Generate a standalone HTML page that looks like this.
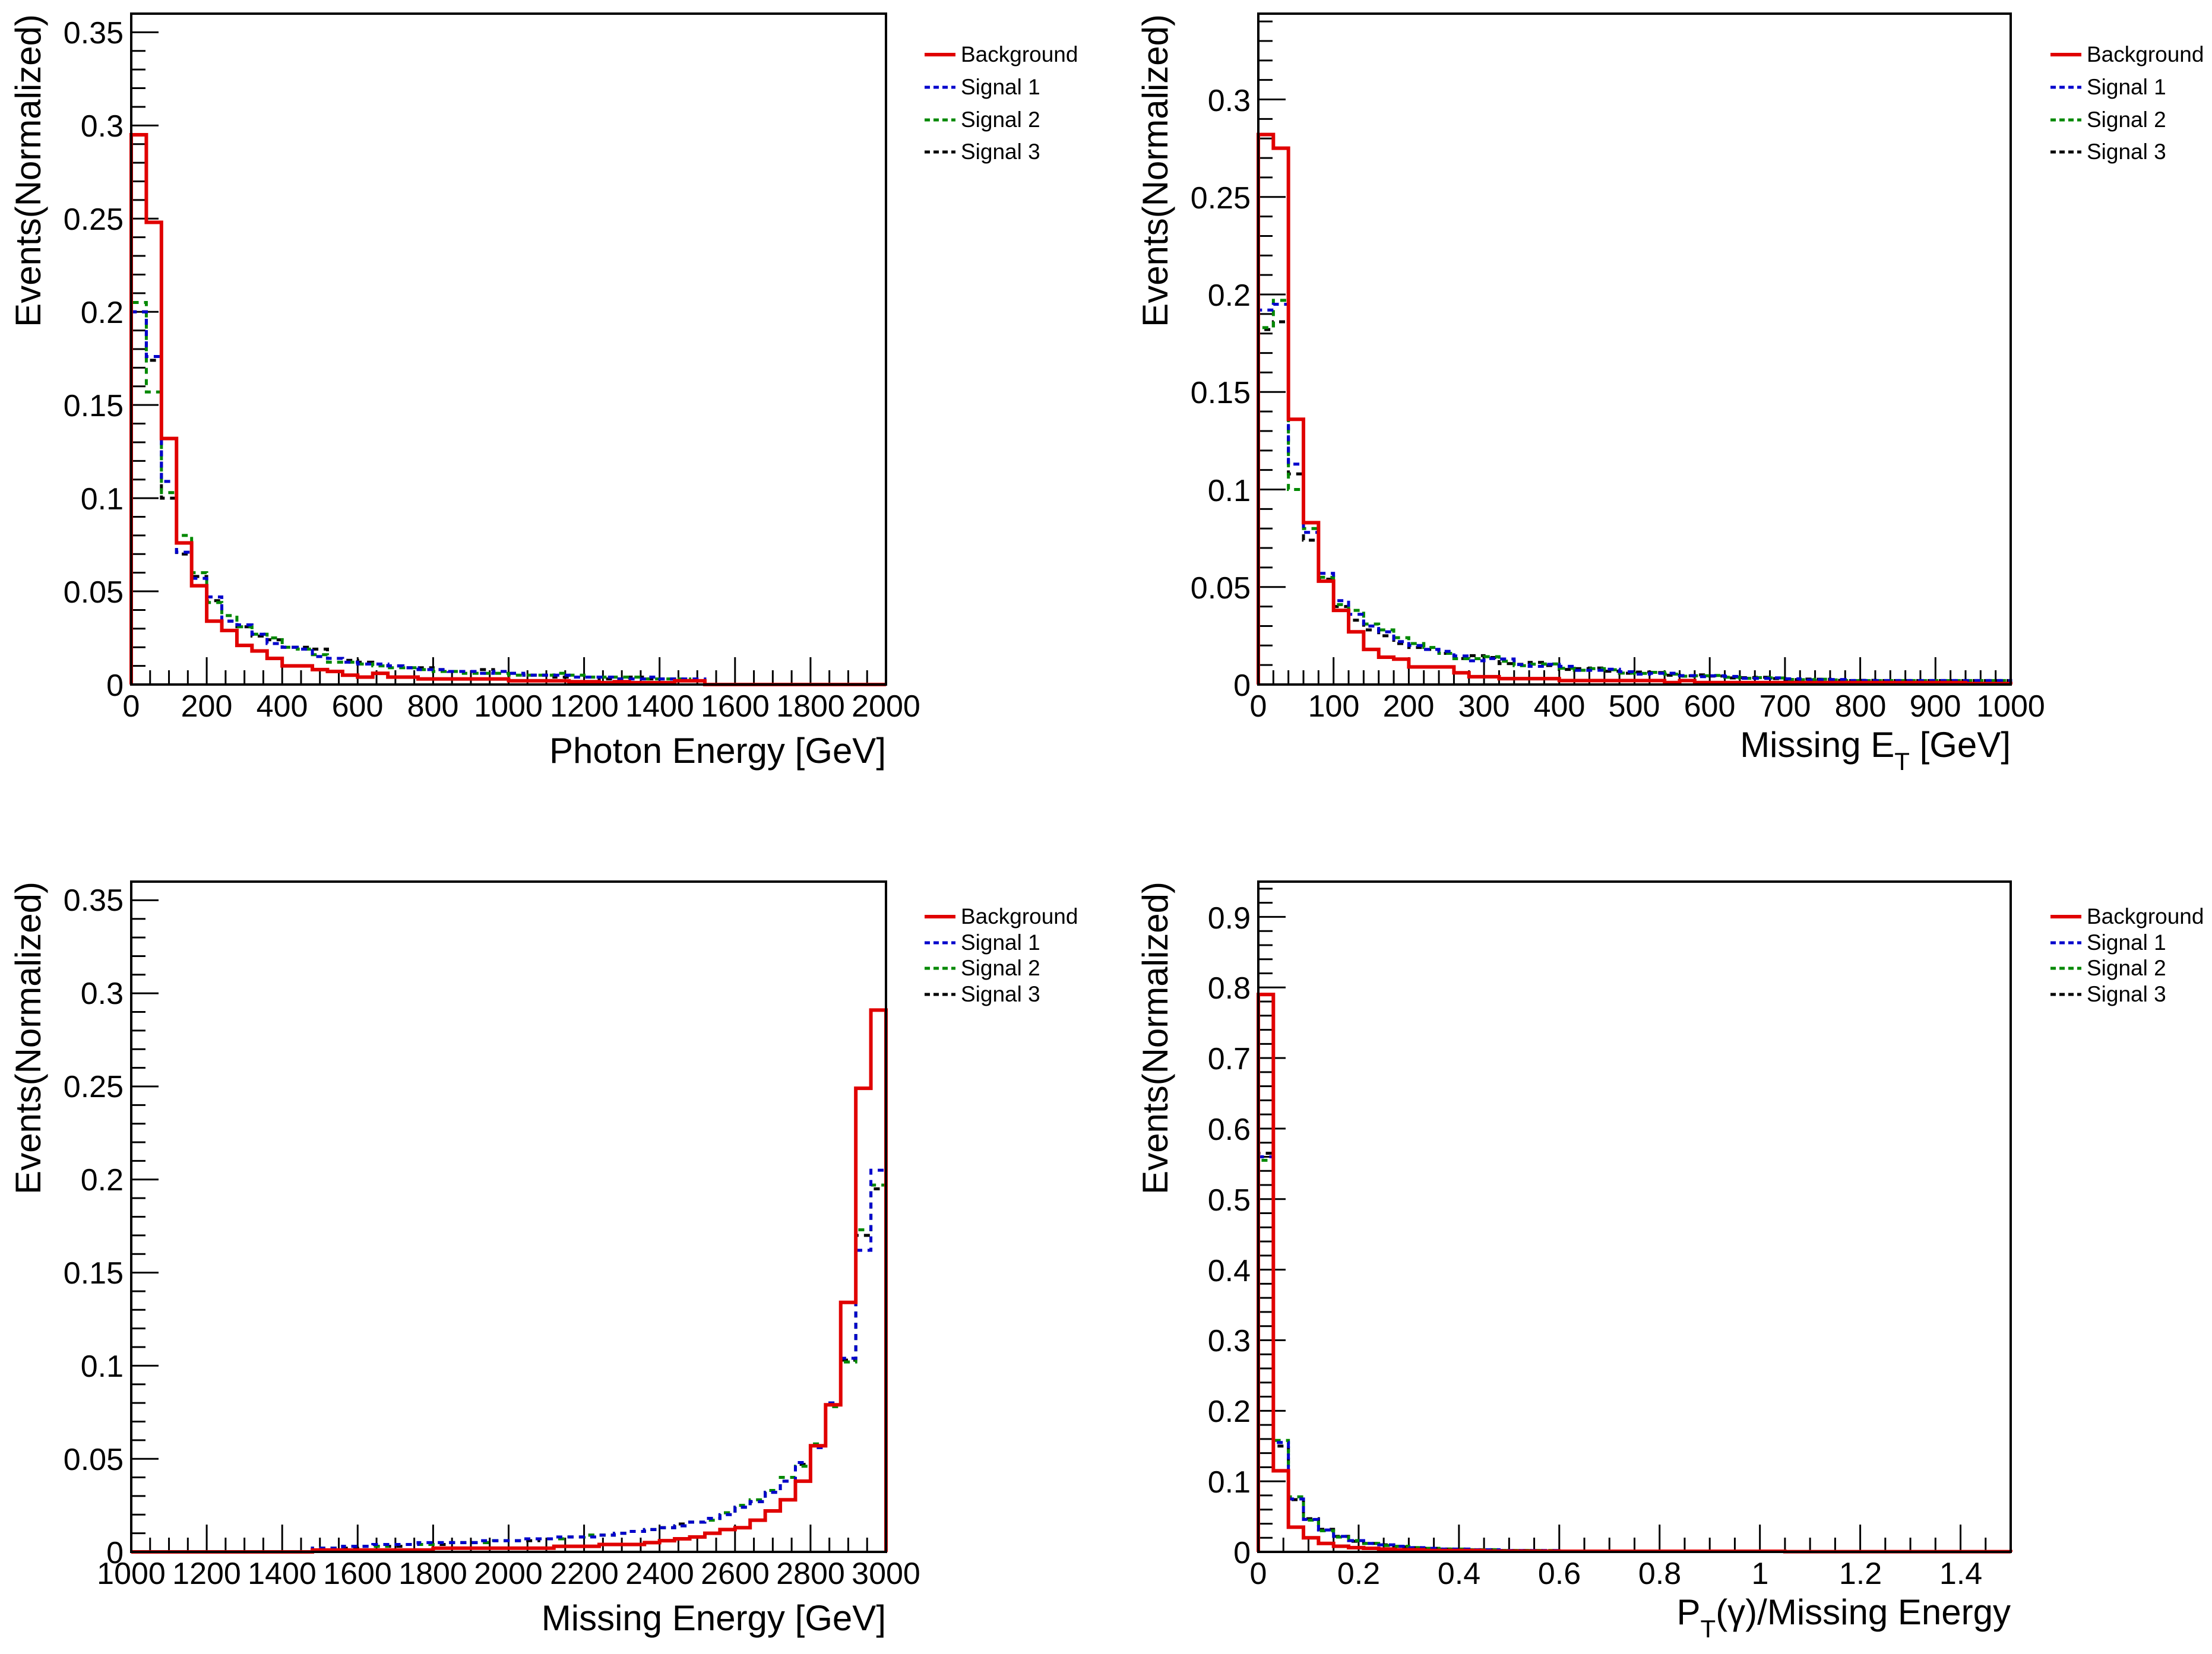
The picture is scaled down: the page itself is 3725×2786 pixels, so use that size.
<!DOCTYPE html>
<html><head><meta charset="utf-8"><style>
html,body{margin:0;padding:0;background:#fff}
svg{display:block}
text{font-family:"Liberation Sans",sans-serif;fill:#000}
.t{font-size:52px}
.ax{font-size:60px}
.lg{font-size:37px}
</style></head><body>
<svg id="s" width="3725" height="2786" viewBox="0 0 3725 2786" xmlns="http://www.w3.org/2000/svg">
<rect width="3725" height="2786" fill="#fff"/>
<g id="plots"></g>

<g class="t" text-anchor="middle">
<text x="221" y="1207">0</text><text x="348" y="1207">200</text><text x="475" y="1207">400</text><text x="602" y="1207">600</text><text x="729" y="1207">800</text><text x="856" y="1207">1000</text><text x="984" y="1207">1200</text><text x="1111" y="1207">1400</text><text x="1238" y="1207">1600</text><text x="1365" y="1207">1800</text><text x="1492" y="1207">2000</text>
</g>
<g class="t" text-anchor="end">
<text x="208" y="1172">0</text><text x="208" y="1015">0.05</text><text x="208" y="858">0.1</text><text x="208" y="701">0.15</text><text x="208" y="544">0.2</text><text x="208" y="387">0.25</text><text x="208" y="230">0.3</text><text x="208" y="73">0.35</text>
</g>
<text class="ax" x="1492" y="1285" text-anchor="end">Photon Energy [GeV]</text>
<text class="ax" transform="translate(68,24) rotate(-90)" text-anchor="end">Events(Normalized)</text>

<g class="t" text-anchor="middle">
<text x="2119" y="1207">0</text><text x="2246" y="1207">100</text><text x="2372" y="1207">200</text><text x="2499" y="1207">300</text><text x="2626" y="1207">400</text><text x="2752" y="1207">500</text><text x="2879" y="1207">600</text><text x="3006" y="1207">700</text><text x="3133" y="1207">800</text><text x="3259" y="1207">900</text><text x="3386" y="1207">1000</text>
</g>
<g class="t" text-anchor="end">
<text x="2106" y="1172">0</text><text x="2106" y="1008">0.05</text><text x="2106" y="844">0.1</text><text x="2106" y="679">0.15</text><text x="2106" y="515">0.2</text><text x="2106" y="351">0.25</text><text x="2106" y="187">0.3</text>
</g>
<text class="ax" x="3386" y="1275" text-anchor="end">Missing E<tspan dy="22" font-size="42">T</tspan><tspan dy="-22"> [GeV]</tspan></text>
<text class="ax" transform="translate(1966,24) rotate(-90)" text-anchor="end">Events(Normalized)</text>

<g class="t" text-anchor="middle">
<text x="221" y="2668">1000</text><text x="348" y="2668">1200</text><text x="475" y="2668">1400</text><text x="602" y="2668">1600</text><text x="729" y="2668">1800</text><text x="856" y="2668">2000</text><text x="984" y="2668">2200</text><text x="1111" y="2668">2400</text><text x="1238" y="2668">2600</text><text x="1365" y="2668">2800</text><text x="1492" y="2668">3000</text>
</g>
<g class="t" text-anchor="end">
<text x="208" y="2633">0</text><text x="208" y="2476">0.05</text><text x="208" y="2319">0.1</text><text x="208" y="2162">0.15</text><text x="208" y="2005">0.2</text><text x="208" y="1848">0.25</text><text x="208" y="1691">0.3</text><text x="208" y="1534">0.35</text>
</g>
<text class="ax" x="1492" y="2746" text-anchor="end">Missing Energy [GeV]</text>
<text class="ax" transform="translate(68,1485) rotate(-90)" text-anchor="end">Events(Normalized)</text>

<g class="t" text-anchor="middle">
<text x="2119" y="2668">0</text><text x="2288" y="2668">0.2</text><text x="2457" y="2668">0.4</text><text x="2626" y="2668">0.6</text><text x="2795" y="2668">0.8</text><text x="2964" y="2668">1</text><text x="3133" y="2668">1.2</text><text x="3302" y="2668">1.4</text>
</g>
<g class="t" text-anchor="end">
<text x="2106" y="2633">0</text><text x="2106" y="2514">0.1</text><text x="2106" y="2395">0.2</text><text x="2106" y="2276">0.3</text><text x="2106" y="2158">0.4</text><text x="2106" y="2039">0.5</text><text x="2106" y="1920">0.6</text><text x="2106" y="1801">0.7</text><text x="2106" y="1682">0.8</text><text x="2106" y="1564">0.9</text>
</g>
<text class="ax" x="3386" y="2736" text-anchor="end">P<tspan dy="22" font-size="42">T</tspan><tspan dy="-22">(γ)/Missing Energy</tspan></text>
<text class="ax" transform="translate(1966,1485) rotate(-90)" text-anchor="end">Events(Normalized)</text>

<g class="lg">
<text x="1618" y="104">Background</text><text x="1618" y="159">Signal 1</text><text x="1618" y="214">Signal 2</text><text x="1618" y="268">Signal 3</text>
<text x="3514" y="104">Background</text><text x="3514" y="159">Signal 1</text><text x="3514" y="214">Signal 2</text><text x="3514" y="268">Signal 3</text>
<text x="1618" y="1556">Background</text><text x="1618" y="1600">Signal 1</text><text x="1618" y="1643">Signal 2</text><text x="1618" y="1687">Signal 3</text>
<text x="3514" y="1556">Background</text><text x="3514" y="1600">Signal 1</text><text x="3514" y="1643">Signal 2</text><text x="3514" y="1687">Signal 3</text>
</g>
</svg>
<script>
(function(){
var NS="http://www.w3.org/2000/svg",G=document.getElementById("plots");
function el(n,a){var e=document.createElementNS(NS,n);for(var k in a)e.setAttribute(k,a[k]);G.appendChild(e);return e;}
function line(x1,y1,x2,y2,w,c){el("line",{x1:x1,y1:y1,x2:x2,y2:y2,stroke:c||"#000","stroke-width":w||3});}
function plot(p){
 var L=p.L,R=p.R,T=p.T,B=p.B,W=R-L,H=B-T;
 function X(v){return L+(v-p.x0)/(p.x1-p.x0)*W;}
 function Y(v){return B-v/p.ymax*H;}
 for(var v=p.x0;v<=p.x1+1e-9;v+=p.xmin){var maj=Math.abs((v-p.x0)/p.xmaj-Math.round((v-p.x0)/p.xmaj))<1e-6;line(X(v),B,X(v),B-(maj?46:24),3);}
 for(var v=0;v<=p.ymax+1e-9;v+=p.ymin){var maj=Math.abs(v/p.ymaj-Math.round(v/p.ymaj))<1e-6;line(L,Y(v),L+(maj?46:24),Y(v),3);}
 var n=p.series[0].d.length,bw=(p.x1-p.x0)/n;
 var styles=[{c:"#e00000",w:6,da:null},{c:"#0000cc",w:5,da:"10,9"},{c:"#008800",w:5,da:"10,9"},{c:"#000",w:5,da:"10,9"}];
 for(var s=p.series.length-1;s>=0;s--){
   var d=p.series[s].d,st=styles[s],pts=[];
   pts.push(X(p.x0)+","+Y(0));
   for(var i=0;i<n;i++){pts.push(X(p.x0+i*bw)+","+Y(d[i]));pts.push(X(p.x0+(i+1)*bw)+","+Y(d[i]));}
   pts.push(X(p.x1)+","+Y(0));
   var a={points:pts.join(" "),fill:"none",stroke:st.c,"stroke-width":st.w};
   if(st.da)a["stroke-dasharray"]=st.da;
   el("polyline",a);
 }
 el("rect",{x:L,y:T,width:W,height:H,fill:"none",stroke:"#000","stroke-width":4});
 var ly=p.leg;
 for(var s=0;s<4;s++){var st=styles[s];var a={x1:p.lx,y1:ly[s],x2:p.lx+52,y2:ly[s],stroke:st.c,"stroke-width":st.w};if(st.da)a["stroke-dasharray"]="9,6";el("line",a);}
}
var bg1=[0.295,0.248,0.132,0.076,0.053,0.034,0.029,0.021,0.018,0.014,0.010,0.010,0.008,0.007,0.005,0.004,0.006,0.004,0.004,0.003,0.003,0.003,0.003,0.003,0.003,0.002,0.002,0.002,0.002,0.0015,0.0015,0.001,0.0015,0.001,0.001,0.001,0.002,0.002];
while(bg1.length<50)bg1.push(0);
var s1=[0.20,0.176,0.109,0.071,0.057,0.047,0.034,0.032,0.027,0.022,0.020,0.019,0.015,0.014,0.012,0.011,0.011,0.010,0.009,0.008,0.008,0.007,0.007,0.006,0.007,0.006,0.005,0.005,0.005,0.004,0.004,0.004,0.003,0.003,0.004,0.003,0.003,0.003];
var s2=[0.205,0.157,0.103,0.080,0.060,0.044,0.037,0.031,0.027,0.025,0.020,0.019,0.016,0.012,0.012,0.011,0.010,0.009,0.009,0.008,0.007,0.007,0.006,0.006,0.006,0.005,0.005,0.005,0.006,0.005,0.004,0.004,0.004,0.004,0.003,0.003,0.003,0.002];
var s3=[0.20,0.174,0.100,0.070,0.058,0.045,0.034,0.031,0.026,0.024,0.020,0.020,0.019,0.014,0.013,0.012,0.011,0.010,0.009,0.009,0.008,0.007,0.007,0.008,0.007,0.006,0.005,0.005,0.004,0.004,0.004,0.003,0.003,0.004,0.003,0.003,0.002,0.002];
[s1,s2,s3].forEach(function(a){while(a.length<50)a.push(0);});
plot({L:221,R:1492,T:23,B:1153,x0:0,x1:2000,xmaj:200,xmin:50,ymax:0.36,ymaj:0.05,ymin:0.01,lx:1557,leg:[92,147,202,256],series:[{d:bg1},{d:s1},{d:s2},{d:s3}]});
var bg2=[0.282,0.275,0.136,0.083,0.053,0.038,0.027,0.018,0.014,0.013,0.009,0.009,0.009,0.006,0.004,0.004,0.003,0.003,0.003,0.003,0.002,0.002,0.002,0.002,0.002,0.002,0.002,0.001,0.002,0.001,0.001,0.001,0.001,0.001,0.001,0.001,0.001,0.001,0.001,0.001,0.001,0.001,0.001,0.001,0.001,0.001,0.001,0.0005,0.0005,0.0005];
function mk(base,ph){var r=base.slice();for(var i=r.length;i<50;i++)r.push(Math.max(0.002,0.016*Math.exp(-(i-12)*0.075)*(1+0.12*Math.sin(i*1.7+ph))));return r;}
var t1=mk([0.192,0.195,0.113,0.078,0.057,0.043,0.036,0.030,0.027,0.022,0.020,0.018,0.017],0);
var t2=mk([0.183,0.197,0.100,0.080,0.055,0.041,0.038,0.031,0.028,0.024,0.021,0.019,0.016],1);
var t3=mk([0.182,0.186,0.108,0.074,0.054,0.040,0.033,0.028,0.025,0.021,0.019,0.018,0.016],2);
plot({L:2119,R:3386,T:23,B:1153,x0:0,x1:1000,xmaj:100,xmin:20,ymax:0.344,ymaj:0.05,ymin:0.01,lx:3453,leg:[92,147,202,256],series:[{d:bg2},{d:t1},{d:t2},{d:t3}]});
function rev(a){return a.slice().reverse();}
var bg3=rev([0.291,0.249,0.134,0.079,0.057,0.038,0.028,0.022,0.017,0.013,0.012,0.010,0.008,0.007,0.006,0.005,0.004,0.004,0.004,0.003,0.003,0.003,0.002,0.002,0.002,0.002,0.002,0.002,0.002,0.002,0.001,0.001,0.001,0.001,0.001,0.001,0.001,0.001,0,0,0,0,0,0,0,0,0,0,0,0]);
var u1=rev([0.205,0.162,0.104,0.080,0.056,0.048,0.038,0.032,0.027,0.024,0.020,0.018,0.016,0.014,0.013,0.012,0.011,0.010,0.009,0.008,0.008,0.008,0.007,0.007,0.006,0.006,0.006,0.005,0.005,0.005,0.005,0.004,0.004,0.004,0.003,0.003,0.002,0.002,0,0,0,0,0,0,0,0,0,0,0,0]);
var u2=rev([0.197,0.173,0.102,0.078,0.058,0.046,0.040,0.033,0.028,0.025,0.021,0.017,0.016,0.014,0.013,0.012,0.011,0.010,0.009,0.009,0.008,0.007,0.007,0.007,0.006,0.006,0.005,0.005,0.005,0.005,0.004,0.004,0.004,0.003,0.003,0.003,0.002,0.002,0,0,0,0,0,0,0,0,0,0,0,0]);
var u3=rev([0.195,0.170,0.103,0.080,0.057,0.047,0.038,0.032,0.027,0.024,0.021,0.018,0.016,0.015,0.013,0.012,0.011,0.010,0.009,0.009,0.008,0.007,0.007,0.006,0.006,0.006,0.005,0.005,0.005,0.004,0.004,0.004,0.003,0.003,0.003,0.002,0.002,0.002,0,0,0,0,0,0,0,0,0,0,0,0]);
plot({L:221,R:1492,T:1485,B:2614,x0:1000,x1:3000,xmaj:200,xmin:50,ymax:0.36,ymaj:0.05,ymin:0.01,lx:1557,leg:[1544,1588,1631,1675],series:[{d:bg3},{d:u1},{d:u2},{d:u3}]});
var bg4=[0.79,0.115,0.035,0.020,0.012,0.008,0.006,0.005,0.004,0.003,0.003,0.002,0.002,0.002,0.002,0.001,0.001,0.001,0.001,0.001];
var v1=[0.56,0.155,0.075,0.046,0.031,0.022,0.016,0.012,0.010,0.008,0.006,0.005,0.004,0.004,0.003,0.003,0.002,0.002,0.002,0.002];
var v2=[0.555,0.158,0.078,0.045,0.030,0.021,0.016,0.012,0.009,0.008,0.006,0.005,0.004,0.004,0.003,0.003,0.002,0.002,0.002,0.002];
var v3=[0.565,0.150,0.074,0.047,0.032,0.022,0.015,0.012,0.010,0.007,0.006,0.005,0.004,0.003,0.003,0.003,0.002,0.002,0.002,0.001];
[bg4,v1,v2,v3].forEach(function(a){while(a.length<50)a.push(a.length<35?0.0008:0.0003);});
plot({L:2119,R:3386,T:1485,B:2614,x0:0,x1:1.5,xmaj:0.2,xmin:0.05,ymax:0.95,ymaj:0.1,ymin:0.02,lx:3453,leg:[1544,1588,1631,1675],series:[{d:bg4},{d:v1},{d:v2},{d:v3}]});
})();
</script>
</body></html>
